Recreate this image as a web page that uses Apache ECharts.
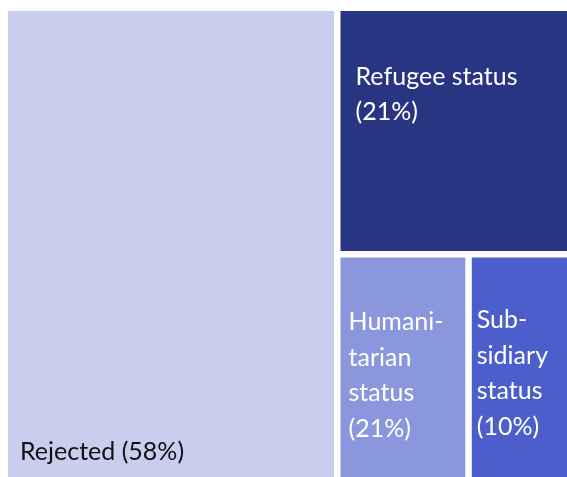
<!DOCTYPE html>
<html>
<head>
<meta charset="utf-8">
<script src="https://cdn.jsdelivr.net/npm/echarts@6/dist/echarts.min.js"></script>
<style>html,body{margin:0;padding:0;background:#fff}#c{width:567px;height:477px}</style>
</head>
<body>
<div id="c"></div>
<script>
var categories = ['Rejected', 'Refugee status', 'Humanitarian status', 'Subsidiary status'];
var values = [58.8, 21.5, 11.1, 8.6];
var labelTexts = ['Rejected (58%)', 'Refugee status\n(21%)', 'Humani-\ntarian\nstatus\n(21%)', 'Sub-\nsidiary\nstatus\n(10%)'];
var colors = ['#c9cdee', '#283583', '#8a97dc', '#4b5ecb'];
var textColors = ['#111111', '#ffffff', '#ffffff', '#ffffff'];
var labelPos = [[7, 418], [10, 43], [3, 42], [0, 40]];

var data = categories.map(function (c, i) {
  return {
    name: c,
    value: values[i],
    itemStyle: { color: colors[i], borderWidth: 0 },
    label: {
      show: true,
      formatter: labelTexts[i],
      color: textColors[i],
      position: labelPos[i],
      align: 'left',
      verticalAlign: 'top'
    }
  };
});

var chart = echarts.init(document.getElementById('c'));
chart.setOption({
  animation: false,
  series: [{
    type: 'treemap',
    left: 8, top: 11, right: 0, bottom: 0,
    roam: false,
    nodeClick: false,
    breadcrumb: { show: false },
    squareRatio: 1,
    label: {
      show: true,
      fontFamily: 'Lato',
      fontSize: 25,
      lineHeight: 35.5,
      overflow: 'none'
    },
    upperLabel: { show: false },
    levels: [{ itemStyle: { gapWidth: 6.5, borderWidth: 0 } }],
    itemStyle: { borderWidth: 0 },
    data: data
  }]
});
</script>
</body>
</html>
